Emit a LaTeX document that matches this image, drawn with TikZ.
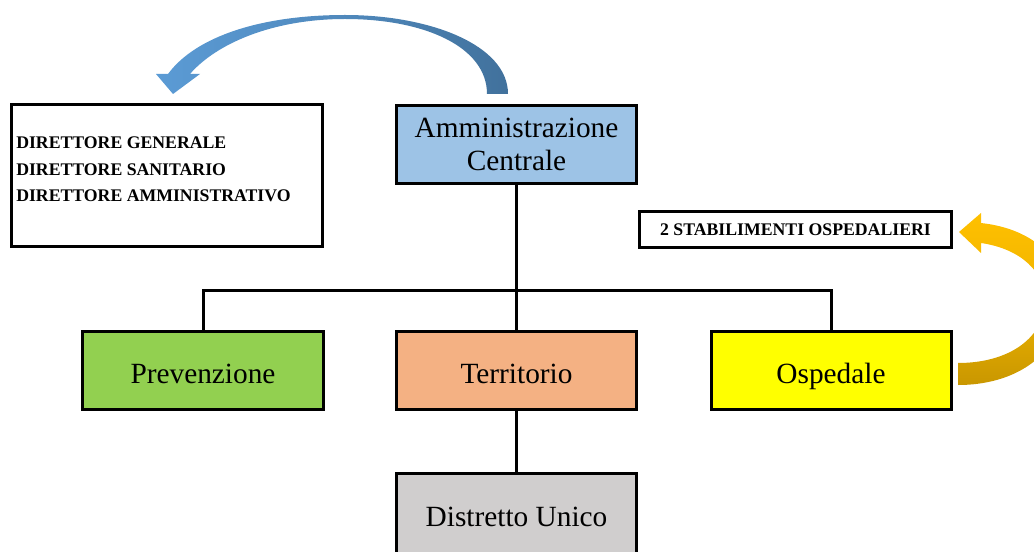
\documentclass[tikz,border=0pt]{standalone}
\usepackage{fontspec}
\setmainfont{Liberation Serif}
\definecolor{admblue}{HTML}{9DC3E6}
\definecolor{prevgreen}{HTML}{92D050}
\definecolor{terrorange}{HTML}{F4B183}
\definecolor{ospyellow}{HTML}{FFFF00}
\definecolor{distgrey}{HTML}{D0CECE}
\definecolor{arrblueL}{HTML}{5B9BD5}
\definecolor{arrblueD}{HTML}{41719C}
\definecolor{arrgoldL}{HTML}{FFC000}
\definecolor{arrgoldD}{HTML}{C99700}
\begin{document}
\begin{tikzpicture}[x=0.75pt,y=-0.75pt,
  mainbox/.style={draw=black,line width=2.25pt,minimum width=180pt,minimum height=58pt,inner sep=0pt,
    font=\fontsize{22}{24.75}\selectfont,align=center},
  oneline/.style={text height=19.5pt,text depth=0pt},
  infobox/.style={draw=black,line width=2.25pt,inner sep=0pt,fill=white},
  infotext/.style={font=\fontsize{13.3}{19.9}\selectfont\bfseries,align=left,inner sep=0pt},
  conn/.style={line width=2.25pt,line cap=rect}]
\useasboundingbox (0,0) rectangle (1034,552);
\begin{scope}
\clip (0,0) rectangle (1034,552);
\coordinate (bus) at (516.5,290);
% boxes
\node[mainbox,fill=admblue] (adm) at (516.5,144.5) {Amministrazione\\Centrale};
\node[mainbox,oneline,fill=prevgreen,minimum width=180.75pt] (prev) at (203,370.5) {Prevenzione};
\node[mainbox,oneline,fill=terrorange] (terr) at (516.5,370.5) {Territorio};
\node[mainbox,oneline,fill=ospyellow] (osp) at (831,370.5) {Ospedale};
\node[mainbox,oneline,fill=distgrey,minimum height=60pt] (dist) at (516.5,513) {Distretto Unico};
\node[infobox,minimum width=233.25pt,minimum height=106.5pt] (dir) at (167,175.5) {};
\node[infotext,anchor=west] (dirtext) at (16,169.5) {DIRETTORE GENERALE\\DIRETTORE SANITARIO\\DIRETTORE AMMINISTRATIVO};
\node[infobox,minimum width=234pt,minimum height=27pt,font=\fontsize{13.3}{16}\selectfont\bfseries] (stab) at (795.5,229.5) {2 STABILIMENTI OSPEDALIERI};
% connectors
\draw[conn] (adm.south) -- (bus);
\draw[conn] (prev.north) |- (bus) -| (osp.north);
\draw[conn] (bus) -- (terr.north);
\draw[conn] (terr.south) -- (dist.north);
% blue curved arrow
\shade[left color=arrblueL, right color=arrblueD, middle color=arrblueL!60!arrblueD]
  (508,94) .. controls (508,45) and (430,15) .. (345,15)
  .. controls (262,15) and (196,36) .. (168,74)
  -- (156,74) -- (173,94) -- (200,74) -- (190,74)
  .. controls (216,44) and (272,19) .. (345,19)
  .. controls (425,19) and (487,47) .. (487,94) -- cycle;
% gold curved arrow
\shade[top color=arrgoldL, bottom color=arrgoldD, middle color=arrgoldL!70!arrgoldD]
  (958,385) .. controls (1025,385) and (1065,345) .. (1065,300)
  .. controls (1065,260) and (1035,229) .. (981,223)
  -- (981,213) -- (959,232) -- (981,253) -- (981,243)
  .. controls (1022,249) and (1045,273) .. (1045,300)
  .. controls (1045,337) and (1010,363) .. (958,363) -- cycle;
\end{scope}
\end{tikzpicture}
\end{document}
